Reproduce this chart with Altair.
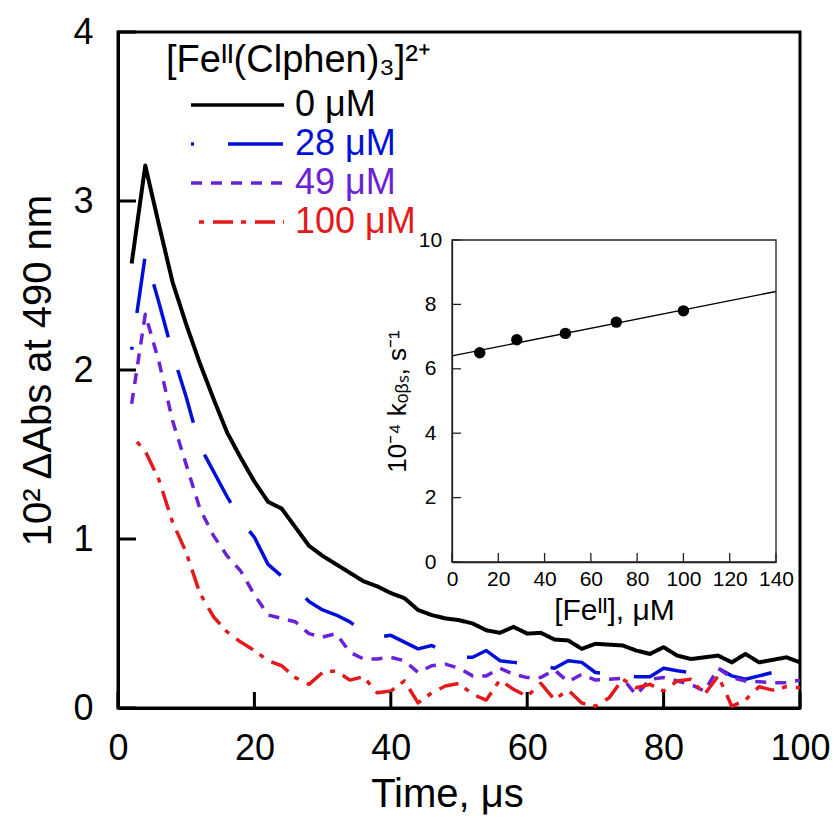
import altair as alt
import pandas as pd

FONT = "Liberation Sans"

# ---------------- main panel data ----------------
time_us = [2, 4, 6, 8, 10, 12, 14, 16, 18, 20, 22, 24, 26, 28, 30, 32, 34, 36, 38, 40,
           42, 44, 46, 48, 50, 52, 54, 56, 58, 60, 62, 64, 66, 68, 70, 72, 74, 76, 78, 80,
           82, 84, 86, 88, 90, 92, 94, 96, 98, 100]

abs_0uM = [2.63, 3.21, 2.86, 2.52, 2.27, 2.04, 1.83, 1.63, 1.48, 1.34, 1.22, 1.18, 1.07, 0.96,
           0.90, 0.85, 0.80, 0.75, 0.72, 0.68, 0.65, 0.58, 0.55, 0.53, 0.52, 0.50, 0.46, 0.445,
           0.48, 0.44, 0.445, 0.405, 0.40, 0.35, 0.38, 0.375, 0.37, 0.34, 0.32, 0.36, 0.31, 0.29,
           0.30, 0.31, 0.27, 0.32, 0.27, 0.285, 0.30, 0.27]

abs_28uM = [2.12, 2.68, 2.40, 2.10, 1.84, 1.55, 1.40, 1.25, 1.11, 1.01, 0.85, 0.78, 0.72, 0.63,
            0.58, 0.55, 0.51, 0.45, 0.42, 0.43, 0.39, 0.35, 0.37, 0.33, 0.30, 0.30, 0.34, 0.28,
            0.27, 0.26, 0.25, 0.235, 0.28, 0.27, 0.21, 0.20, 0.19, 0.185, 0.185, 0.235, 0.22,
            0.21, 0.22, 0.235, 0.19, 0.17, 0.19, 0.21, 0.20, 0.19]

abs_49uM = [1.80, 2.33, 2.05, 1.70, 1.44, 1.18, 1.02, 0.90, 0.81, 0.67, 0.55, 0.53, 0.51, 0.44,
            0.42, 0.44, 0.33, 0.29, 0.29, 0.30, 0.28, 0.21, 0.25, 0.26, 0.235, 0.19, 0.19, 0.235,
            0.20, 0.18, 0.18, 0.225, 0.155, 0.20, 0.165, 0.17, 0.175, 0.077, 0.17, 0.18, 0.16,
            0.14, 0.10, 0.235, 0.18, 0.16, 0.155, 0.15, 0.15, 0.165]

abs_100uM = [1.61, 1.52, 1.35, 1.10, 0.92, 0.68, 0.54, 0.45, 0.39, 0.34, 0.28, 0.25, 0.18, 0.14,
             0.21, 0.22, 0.165, 0.185, 0.09, 0.10, 0.16, 0.03, 0.09, 0.13, 0.146, 0.08, 0.047,
             0.166, 0.11, 0.07, 0.146, 0.05, 0.106, 0.03, 0.01, 0.06, 0.17, 0.12, 0.14, 0.10,
             0.16, 0.17, 0.08, 0.19, 0.01, 0.047, 0.126, 0.106, 0.126, 0.12]

series_names = ["0 μM", "28 μM", "49 μM", "100 μM"]
series_values = [abs_0uM, abs_28uM, abs_49uM, abs_100uM]
series_colors = ["#000000", "#0010d8", "#6a22d6", "#e3191b"]
series_dashes = [[1, 0], [55, 34], [11, 9], [20, 8, 5, 9]]
series_dash_offsets = [0, 52, 0, 20]
series_widths = [4, 3.5, 3.5, 3.5]

main_x_ticks = [0, 20, 40, 60, 80, 100]
main_y_ticks = [0, 1, 2, 3, 4]

# ---------------- inset data ----------------
inset_fe_uM = [12, 28, 49, 71, 100]
inset_kobs = [6.5, 6.9, 7.1, 7.45, 7.8]
fit_fe_uM = [0, 140]
fit_kobs = [6.4, 8.4]
inset_x_ticks = [0, 20, 40, 60, 80, 100, 120, 140]
inset_y_ticks = [0, 2, 4, 6, 8, 10]

# ---------------- tables ----------------
rows = []
for name, vals in zip(series_names, series_values):
    for t, v in zip(time_us, vals):
        rows.append({"time": t, "absorbance": v, "series": name})
df = pd.DataFrame(rows)

W, H = 682, 676

color_scale = alt.Scale(domain=series_names, range=series_colors)
dash_scale = alt.Scale(domain=series_names, range=series_dashes)

legend = alt.Legend(
    title="[Feᴵᴵ(Clphen)₃]²⁺",
    orient="none", legendX=48, legendY=10,
    symbolType="stroke", symbolSize=8649, symbolStrokeWidth=3.5, symbolOffset=23,
    symbolDashOffset={"expr": "datum.value === '28 μM' ? 52 : (datum.value === '100 μM' ? 20 : 0)"},
    clipHeight=34, rowPadding=3, padding=0,
    labelFont=FONT, labelFontSize=36, labelOffset=9, labelLimit=400,
    labelColor={"expr": "scale('color', datum.value)"},
    titleFont=FONT, titleFontSize=38, titleFontWeight="normal", titleColor="black",
    titlePadding=8, titleLimit=500,
)

x_main = alt.X(
    "time:Q",
    scale=alt.Scale(domain=[0, 100], nice=False, zero=False),
    axis=alt.Axis(title="Time, μs", orient="bottom", values=main_x_ticks, ticks=False, tickSize=0,
                  labelPadding=23, labelFontSize=36, labelFont=FONT, labelColor="black",
                  labelFlush=False, labelOverlap=False,
                  titleFontSize=40, titleFont=FONT, titleFontWeight="normal", titleColor="black",
                  titleX=329, titleY=98, titleBaseline="alphabetic",
                  domainColor="black", domainWidth=3, grid=False),
)
y_main = alt.Y(
    "absorbance:Q",
    scale=alt.Scale(domain=[0, 4], nice=False, zero=False),
    axis=alt.Axis(title="10² ΔAbs at 490 nm", orient="left", values=main_y_ticks, ticks=False,
                  tickSize=0, labelPadding=25, labelFontSize=36, labelFont=FONT, labelColor="black",
                  titleFontSize=40, titleFont=FONT, titleFontWeight="normal", titleColor="black",
                  titlePadding=14, domainColor="black", domainWidth=3, grid=False),
)

line_layers = []
for name, width, offset in zip(series_names, series_widths, series_dash_offsets):
    line_layers.append(
        alt.Chart(df[df["series"] == name]).mark_line(
            strokeWidth=width, strokeDashOffset=offset, strokeJoin="round"
        ).encode(
            x=x_main, y=y_main,
            color=alt.Color("series:N", scale=color_scale, legend=legend),
            strokeDash=alt.StrokeDash("series:N", scale=dash_scale, legend=legend),
            order=alt.Order("time:Q"),
        )
    )

main_xtick_layer = alt.Chart(pd.DataFrame({"time": main_x_ticks})).mark_rule(
    color="black", strokeWidth=3).encode(x=x_main, y=alt.value(H), y2=alt.value(H - 16))
main_ytick_layer = alt.Chart(pd.DataFrame({"absorbance": main_y_ticks})).mark_rule(
    color="black", strokeWidth=3).encode(y=y_main, x=alt.value(0), x2=alt.value(18))

main = alt.layer(*line_layers, main_xtick_layer, main_ytick_layer)

# ---------------- inset ----------------
IN_X0, IN_X1 = 334, 658
IN_Y0, IN_Y1 = 530, 208
x_in = alt.X(
    "fe:Q",
    scale=alt.Scale(domain=[0, 140], range=[IN_X0, IN_X1], nice=False, zero=False),
    axis=alt.Axis(title="[Feᴵᴵ], μM", orient="bottom", offset=IN_Y0 - H, values=inset_x_ticks,
                  ticks=False, tickSize=0, labelPadding=6, labelFontSize=21, labelFont=FONT,
                  labelColor="black", labelFlush=False, labelOverlap=False,
                  titleFontSize=30, titleFont=FONT, titleFontWeight="normal", titleColor="black",
                  titleY=57, titleBaseline="alphabetic",
                  domainColor="#222222", domainWidth=1.3, grid=False),
)
y_in = alt.Y(
    "kobs:Q",
    scale=alt.Scale(domain=[0, 10], range=[IN_Y0, IN_Y1], nice=False, zero=False),
    axis=alt.Axis(title="10⁻⁴ kₒᵦₛ, s⁻¹", orient="left", offset=-IN_X0, values=inset_y_ticks,
                  ticks=False, tickSize=0, labelPadding=22, labelAlign="center",
                  labelFontSize=21, labelFont=FONT, labelColor="black",
                  titleFontSize=26, titleFont=FONT, titleFontWeight="normal", titleColor="black",
                  titleX=-42, titleY=(IN_Y0 + IN_Y1) / 2, titleAngle=270, titleBaseline="bottom",
                  domainColor="#222222", domainWidth=1.3, grid=False),
)

frame_df = pd.DataFrame({"fe": [min(inset_x_ticks)], "fe2": [max(inset_x_ticks)],
                         "kobs": [min(inset_y_ticks)], "kobs2": [max(inset_y_ticks)]})
inset_frame = alt.Chart(frame_df).mark_rect(
    fillOpacity=0, stroke="#222222", strokeWidth=1.3).encode(
    x=x_in, x2="fe2:Q", y=y_in, y2="kobs2:Q")

fit_line = alt.Chart(pd.DataFrame({"fe": fit_fe_uM, "kobs": fit_kobs})).mark_line(
    color="black", strokeWidth=1.4).encode(x=x_in, y=y_in)

inset_points = alt.Chart(pd.DataFrame({"fe": inset_fe_uM, "kobs": inset_kobs})).mark_point(
    filled=True, color="black", size=130, opacity=1).encode(x=x_in, y=y_in)

inset_xticks = alt.Chart(pd.DataFrame({"fe": inset_x_ticks})).mark_rule(
    color="#222222", strokeWidth=1.3).encode(x=x_in, y=alt.value(IN_Y0), y2=alt.value(IN_Y0 - 9))
inset_yticks = alt.Chart(pd.DataFrame({"kobs": inset_y_ticks})).mark_rule(
    color="#222222", strokeWidth=1.3).encode(y=y_in, x=alt.value(IN_X0), x2=alt.value(IN_X0 + 9))

inset = alt.layer(inset_frame, fit_line, inset_points, inset_xticks, inset_yticks)

chart = alt.layer(main, inset).resolve_scale(
    x="independent", y="independent"
).properties(
    width=W, height=H,
    autosize=alt.AutoSizeParams(type="none"),
    padding={"left": 110, "top": 24, "right": 30, "bottom": 107},
    background="white",
).configure_view(stroke="black", strokeWidth=3)

chart.save("out.html", embed_options={"renderer": "svg", "actions": False})
